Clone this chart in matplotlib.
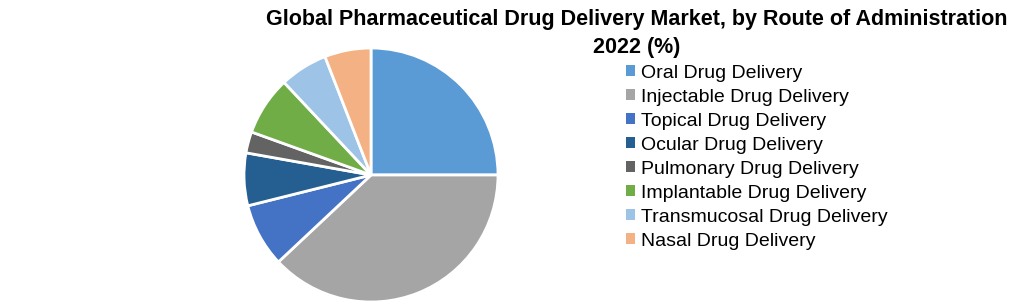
import matplotlib.pyplot as plt
from matplotlib.patches import Patch

# route of administration share, 2022 (%)
routes = ['Oral Drug Delivery', 'Injectable Drug Delivery', 'Topical Drug Delivery',
          'Ocular Drug Delivery', 'Pulmonary Drug Delivery', 'Implantable Drug Delivery',
          'Transmucosal Drug Delivery', 'Nasal Drug Delivery']
shares = [25.0, 38.0, 8.1, 6.7, 2.7, 7.5, 6.1, 5.9]
colors = ['#5B9BD5', '#A5A5A5', '#4472C4', '#255E91', '#636363', '#70AD47',
          '#9DC3E6', '#F4B183']

fig = plt.figure(figsize=(10.2, 3.03), dpi=100)
plt.rcParams['font.family'] = ['Liberation Sans', 'DejaVu Sans']

# pie centred at (371, 175) px, radius ~127 px
cx, cy, r = 371, 175, 127
ax = fig.add_axes([(cx - r) / 1020, 1 - (cy + r) / 303, 2 * r / 1020, 2 * r / 303])
ax.pie(shares, colors=colors, startangle=90, counterclock=False,
       wedgeprops=dict(edgecolor='white', linewidth=2))
ax.set_xlim(-1, 1)
ax.set_ylim(-1, 1)
ax.set_aspect('equal')
ax.axis('off')

fig.text(637 / 1020, 1 - 19 / 303,
         'Global Pharmaceutical Drug Delivery Market, by Route of Administration',
         ha='center', va='center', fontsize=15.5, fontweight='bold')
fig.text(637 / 1020, 1 - 47 / 303, '2022 (%)',
         ha='center', va='center', fontsize=15.5, fontweight='bold')

handles = [Patch(facecolor=c, edgecolor='none') for c in colors]
fig.legend(handles, routes, loc='upper left', bbox_to_anchor=(616 / 1020, 1 - 55 / 303),
           frameon=False, fontsize=14, handlelength=0.5, handleheight=0.5,
           handletextpad=0.3, labelspacing=0.36, borderpad=0)

fig.savefig('out.png', dpi=100)
